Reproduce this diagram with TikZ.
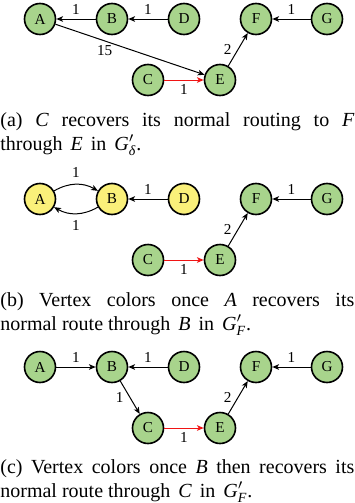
\documentclass[tikz,border=0pt]{standalone}
\usepackage{amsmath}
\usepackage{fontspec}
\setmainfont{Liberation Serif}
\usetikzlibrary{arrows.meta}
\definecolor{ngreen}{RGB}{168,212,140}
\definecolor{nyellow}{RGB}{250,240,122}
\definecolor{ered}{RGB}{240,20,20}
\newcommand{\mv}[1]{\hspace{1.5pt}\textit{#1}\hspace{1.5pt}}
\begin{document}
\begin{tikzpicture}[x=0.5pt,y=-0.5pt,
  vtx/.style={circle,draw=black,line width=0.8pt,minimum size=15.5pt,inner sep=0pt,
    font=\fontsize{7.6}{9}\selectfont},
  gv/.style={vtx,fill=ngreen},
  yv/.style={vtx,fill=nyellow},
  edge/.style={line width=0.5pt,draw=black,-{Stealth[length=3.4pt,width=2.8pt,inset=0.9pt]}},
  redge/.style={edge,draw=ered,-{Stealth[length=3.4pt,width=2.8pt,inset=0.9pt,color=ered]}},
  lbl/.style={font=\fontsize{7.6}{9}\selectfont,inner sep=2pt},
  captext/.style={anchor=base west,inner sep=0pt,text width=177pt,align=justify,
    font=\fontsize{10}{12}\selectfont}
]
\useasboundingbox (0,0) rectangle (354,503);

% ---------- panel (a)
\node[gv] (aA) at (40,19) {A};
\node[gv] (aB) at (112,19) {B};
\node[gv] (aD) at (184,19) {D};
\node[gv] (aF) at (256,19) {F};
\node[gv] (aG) at (327,19) {G};
\node[gv] (aC) at (148,80) {C};
\node[gv] (aE) at (220,80) {E};
\draw[edge] (aB) -- node[lbl,above] {1} (aA);
\draw[edge] (aD) -- node[lbl,above] {1} (aB);
\draw[edge] (aG) -- node[lbl,above] {1} (aF);
\draw[edge] (aA) -- node[lbl,below,pos=0.33] {15} (aE);
\draw[redge] (aC) -- node[lbl,below] {1} (aE);
\draw[edge] (aE) -- node[lbl,left,inner sep=3pt] {2} (aF);
\node[captext] (capa) at (0,126) {(a) \textit{C} recovers its normal routing to \textit{F}\linebreak through \mv{E} in \hspace{1.5pt}\textit{G}\({}'_{\textit{δ}}\).};

% ---------- panel (b)
\node[yv] (bA) at (40,199) {A};
\node[yv] (bB) at (112,199) {B};
\node[yv] (bD) at (184,199) {D};
\node[gv] (bF) at (256,199) {F};
\node[gv] (bG) at (327,199) {G};
\node[gv] (bC) at (148,260) {C};
\node[gv] (bE) at (220,260) {E};
\draw[edge] (bA) to[bend left=30] node[lbl,above,inner sep=3pt] {1} (bB);
\draw[edge] (bB) to[bend left=30] node[lbl,below,inner sep=3pt] {1} (bA);
\draw[edge] (bD) -- node[lbl,above] {1} (bB);
\draw[edge] (bG) -- node[lbl,above] {1} (bF);
\draw[redge] (bC) -- node[lbl,below] {1} (bE);
\draw[edge] (bE) -- node[lbl,left,inner sep=3pt] {2} (bF);
\node[captext] (capb) at (0,306) {(b) Vertex colors once \textit{A} recovers its\linebreak normal route through \mv{B} in \hspace{1.5pt}\textit{G}\({}'_{\textit{F}}\).};

% ---------- panel (c)
\node[gv] (cA) at (40,367) {A};
\node[gv] (cB) at (112,367) {B};
\node[gv] (cD) at (184,367) {D};
\node[gv] (cF) at (256,367) {F};
\node[gv] (cG) at (327,367) {G};
\node[gv] (cC) at (148,428) {C};
\node[gv] (cE) at (220,428) {E};
\draw[edge] (cA) -- node[lbl,above] {1} (cB);
\draw[edge] (cD) -- node[lbl,above] {1} (cB);
\draw[edge] (cG) -- node[lbl,above] {1} (cF);
\draw[edge] (cB) -- node[lbl,left,inner sep=3pt] {1} (cC);
\draw[redge] (cC) -- node[lbl,below] {1} (cE);
\draw[edge] (cE) -- node[lbl,left,inner sep=3pt] {2} (cF);
\node[captext] (capc) at (0,473) {(c) Vertex colors once \textit{B} then recovers its\linebreak normal route through \mv{C} in \hspace{1.5pt}\textit{G}\({}'_{\textit{F}}\).};
\end{tikzpicture}
\end{document}
